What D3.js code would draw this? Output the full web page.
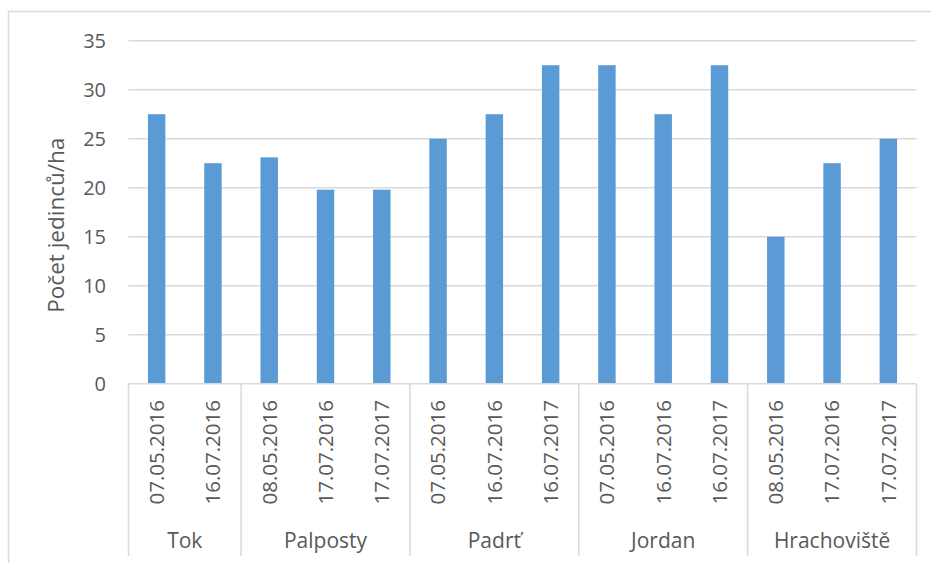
<!DOCTYPE html>
<html>
<head>
<meta charset="utf-8">
<script src="https://cdn.jsdelivr.net/npm/d3@7"></script>
<style>
  body { margin: 0; background: #fff; }
  svg { display: block; font-family: "Open Sans", "Noto Sans", sans-serif; }
  .lbl { fill: #595959; }
</style>
</head>
<body>
<svg width="931" height="563"></svg>
<script>
const sites = ["Tok", "Palposty", "Padrť", "Jordan", "Hrachoviště"]
const siteCounts = [2, 3, 3, 3, 3]
const dates = ["07.05.2016", "16.07.2016",
               "08.05.2016", "17.07.2016", "17.07.2017",
               "07.05.2016", "16.07.2016", "16.07.2017",
               "07.05.2016", "16.07.2016", "16.07.2017",
               "08.05.2016", "17.07.2016", "17.07.2017"]
const values = [27.5, 22.5,
                23.1, 19.8, 19.8,
                25, 27.5, 32.5,
                32.5, 27.5, 32.5,
                15, 22.5, 25]
const yTicks = [0, 5, 10, 15, 20, 25, 30, 35]

const W = 931, H = 563
const plotL = 128.5, plotR = 916.5, plotT = 40.7, plotB = 383.7

const svg = d3.select("svg")

// chart frame (runs off the right/bottom edge like the original)
svg.append("rect")
    .attr("x", 8.5).attr("y", 11.5)
    .attr("width", W + 20).attr("height", H + 20)
    .attr("fill", "none").attr("stroke", "#d9d9d9").attr("stroke-width", 1.5)

let x = d3.scaleBand().domain(d3.range(dates.length)).range([plotL, plotR])
    .paddingInner(0.69).paddingOuter(0.345)
let y = d3.scaleLinear().domain([0, 35]).range([plotB, plotT])

// gridlines + y labels
let yAxis = svg.append("g").attr("class", "y axis")
yAxis.selectAll("line").data(yTicks.filter(d => d > 0)).join("line")
    .attr("x1", plotL).attr("x2", plotR)
    .attr("y1", d => y(d)).attr("y2", d => y(d))
    .attr("stroke", "#d9d9d9").attr("stroke-width", 1.5)
yAxis.selectAll("text").data(yTicks).join("text")
    .attr("class", "lbl")
    .attr("x", 106).attr("y", d => y(d))
    .attr("dy", "0.36em")
    .attr("text-anchor", "end")
    .style("font-size", "20px")
    .text(d => d)

svg.append("text")
    .attr("class", "lbl")
    .attr("transform", `translate(${56}, ${(plotT + plotB) / 2 + 13}) rotate(-90)`)
    .attr("text-anchor", "middle")
    .attr("dy", "0.35em")
    .style("font-size", "22.5px")
    .text("Počet jedinců/ha")

// bars
svg.append("g").selectAll("rect").data(values).join("rect")
    .attr("x", (d, i) => x(i))
    .attr("width", x.bandwidth())
    .attr("y", d => y(d))
    .attr("height", d => y(0) - y(d))
    .attr("fill", "#5b9bd5")

// x axis
let xAxis = svg.append("g").attr("class", "x axis")
xAxis.append("line")
    .attr("x1", plotL).attr("x2", plotR)
    .attr("y1", plotB).attr("y2", plotB)
    .attr("stroke", "#d9d9d9").attr("stroke-width", 1.5)

xAxis.selectAll("text.date").data(dates).join("text")
    .attr("class", "lbl date")
    .attr("transform", (d, i) => `translate(${x(i) + x.bandwidth() / 2}, 400) rotate(-90)`)
    .attr("text-anchor", "end")
    .attr("dy", "0.36em")
    .style("font-size", "20.5px")
    .text(d => d)

// site groups
let starts = [0]
siteCounts.forEach((c, i) => starts.push(starts[i] + c))
let step = x.step()
let edge = i => plotL + step * i

xAxis.selectAll("line.sep").data(starts).join("line")
    .attr("class", "sep")
    .attr("x1", d => edge(d)).attr("x2", d => edge(d))
    .attr("y1", plotB).attr("y2", 556)
    .attr("stroke", "#d9d9d9").attr("stroke-width", 1.5)

xAxis.selectAll("text.site").data(sites).join("text")
    .attr("class", "lbl site")
    .attr("x", (d, i) => (edge(starts[i]) + edge(starts[i + 1])) / 2)
    .attr("y", 548)
    .attr("text-anchor", "middle")
    .style("font-size", "21px")
    .text(d => d)
</script>
</body>
</html>
